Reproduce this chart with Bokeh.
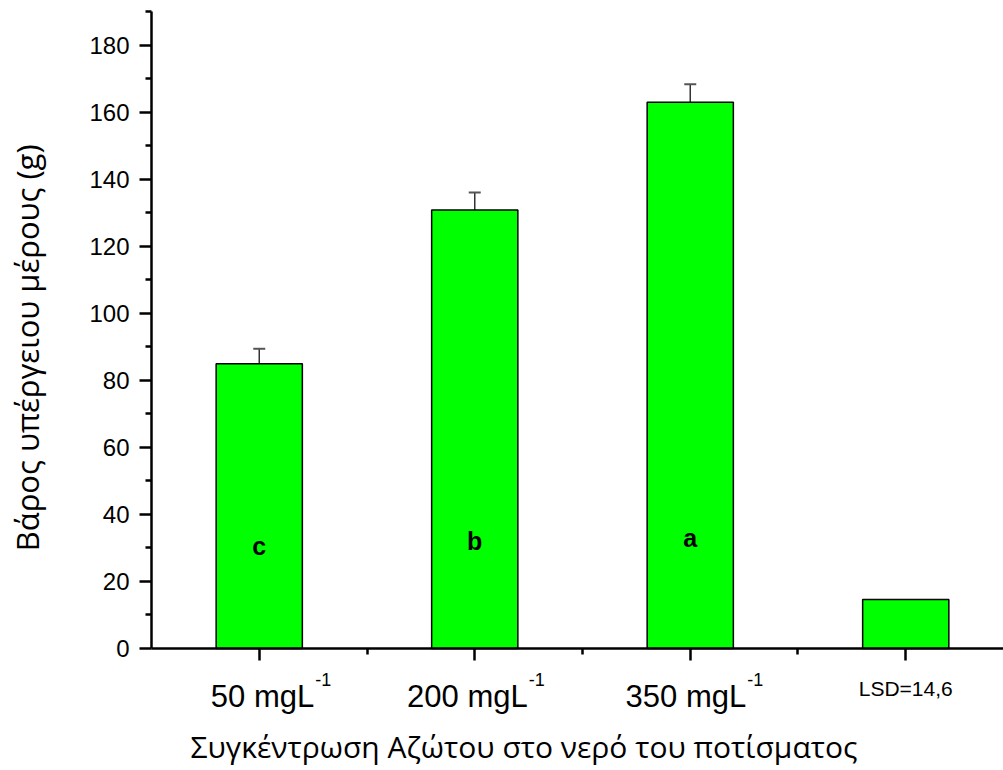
import math
from bokeh.plotting import figure
from bokeh.models import ColumnDataSource, Range1d, FixedTicker, Whisker, TeeHead, Title
from bokeh.core.properties import value
from bokeh.embed import file_html
from bokeh.resources import INLINE

# ---- data ----
categories = ["50 mgL", "200 mgL", "350 mgL", "LSD=14,6"]
superscripts = ["-1", "-1", "-1"]
weights = [84.9, 130.8, 162.9, 14.6]
errors = [4.5, 5.2, 5.4]
letters = ["c", "b", "a"]
y_ticks = [0, 20, 40, 60, 80, 100, 120, 140, 160, 180]
y_minor = [10, 30, 50, 70, 90, 110, 130, 150, 170, 190]
x_title = "Συγκέντρωση Αζώτου στο νερό του ποτίσματος"
y_title = "Βάρος υπέργειου μέρους (g)"

xs = list(range(1, len(categories) + 1))

# frame covers the whole canvas width; axes are placed at fixed data locations
p = figure(width=1003, height=770, output_backend="svg", toolbar_location=None,
           x_range=Range1d(-0.2007, 4.4536), y_range=Range1d(-21.18, 193.28),
           min_border_left=0, min_border_right=0, min_border_top=0, min_border_bottom=51)
p.outline_line_color = None
p.xgrid.grid_line_color = None
p.ygrid.grid_line_color = None
p.background_fill_color = "white"

src = ColumnDataSource(dict(x=xs, top=weights))
p.vbar(x="x", top="top", width=0.4, source=src, fill_color="#00FF00",
       line_color="black", line_width=1.5)

esrc = ColumnDataSource(dict(x=xs[:3], top=weights[:3],
                             upper=[w + e for w, e in zip(weights[:3], errors)]))
p.add_layout(Whisker(source=esrc, base="x", lower="top", upper="upper", dimension="height",
                     line_color="#333333", line_width=1.5, lower_head=None,
                     upper_head=TeeHead(size=12, line_color="#555555", line_width=2)))

# letters inside bars
letter_y = [30.7, 32.2, 33.1]
p.text(x=xs[:3], y=letter_y, text=letters, text_font=value("Liberation Sans"),
       text_font_style="bold", text_font_size="25px", text_align="center",
       text_baseline="middle", text_color="black")

# axes
ax = p.xaxis[0]
ax.fixed_location = 0
ax.bounds = (0.5, 4.4536)
ax.ticker = FixedTicker(ticks=xs, minor_ticks=[1.5, 2.5, 3.5])
ax.major_label_overrides = {x: "" for x in xs}
ax.axis_line_width = 2.5
ax.major_tick_line_width = 2.5
ax.minor_tick_line_width = 2.5
ax.major_tick_out = 12
ax.major_tick_in = 0
ax.minor_tick_out = 6
ax.minor_tick_in = 0

ay = p.yaxis[0]
ay.fixed_location = 0.5
ay.bounds = (0, 190)
ay.ticker = FixedTicker(ticks=y_ticks, minor_ticks=y_minor)
ay.axis_line_width = 2.5
ay.major_tick_line_width = 2.5
ay.minor_tick_line_width = 2.5
ay.major_tick_out = 12
ay.major_tick_in = 0
ay.minor_tick_out = 6
ay.minor_tick_in = 0
ay.major_label_text_font = "Liberation Sans"
ay.major_label_text_font_size = "24px"
ay.major_label_text_color = "black"
ay.major_label_standoff = 10

# y axis title (rotated text left of the axis)
p.text(x=[-0.080], y=[29.0], text=[y_title], angle=math.pi / 2,
       text_font=value("Open Sans"), text_font_size="31px", text_align="left",
       text_baseline="alphabetic", text_color="black")

# x tick labels (with superscripts), below the x axis
lab_y = -14.3
p.text(x=xs[:3], y=[lab_y] * 3, text=categories[:3], text_font=value("Liberation Sans"),
       text_font_size="31px", text_align="right", text_baseline="alphabetic",
       x_offset=[55, 53, 56], text_color="black")
p.text(x=xs[:3], y=[lab_y] * 3, text=superscripts, text_font=value("Liberation Sans"),
       text_font_size="18px", text_align="left", text_baseline="alphabetic",
       x_offset=[56, 54, 57], y_offset=-17, text_color="black")
p.text(x=xs[3:], y=[-11.9], text=categories[3:], text_font=value("Liberation Sans"),
       text_font_size="21px", text_align="center", text_baseline="alphabetic",
       text_color="black")

# x axis title
p.add_layout(Title(text=x_title, align="left", offset=190, standoff=8,
                   text_font="Open Sans", text_font_size="30px", text_font_style="normal",
                   text_color="black"), "below")

open("out.html", "w").write(file_html(p, INLINE))
